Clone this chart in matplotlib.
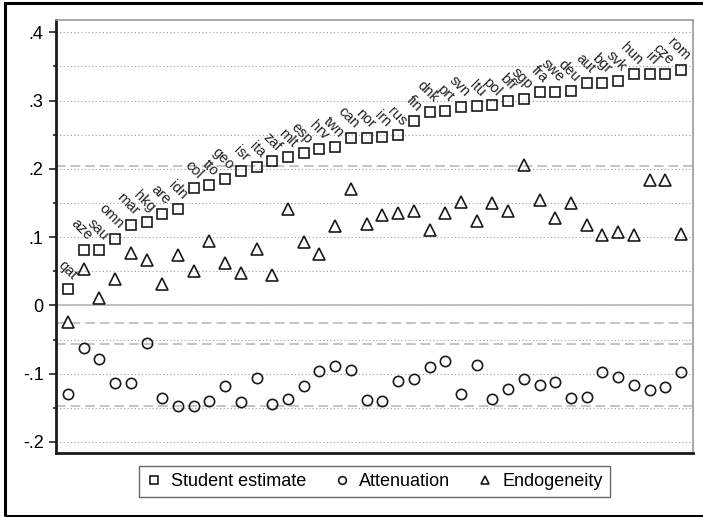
import matplotlib.pyplot as plt
from matplotlib.patches import Rectangle
import numpy as np

plt.rcParams['font.family'] = ['Liberation Sans', 'DejaVu Sans']

countries = ["qat", "aze", "sau", "omn", "mar", "hkg", "are", "idn", "col", "tto",
             "geo", "isr", "ita", "zaf", "mlt", "esp", "hrv", "twn", "can", "nor",
             "irn", "rus", "fin", "dnk", "prt", "svn", "ltu", "pol", "bfr", "sgp",
             "fra", "swe", "deu", "aut", "bgr", "svk", "hun", "irl", "cze", "rom"]

student = [0.024, 0.081, 0.081, 0.098, 0.118, 0.122, 0.134, 0.141, 0.172, 0.176,
           0.185, 0.197, 0.203, 0.211, 0.218, 0.223, 0.229, 0.232, 0.245, 0.245,
           0.247, 0.249, 0.270, 0.283, 0.285, 0.291, 0.292, 0.293, 0.300, 0.303,
           0.313, 0.313, 0.314, 0.326, 0.326, 0.329, 0.339, 0.339, 0.339, 0.345]

attenuation = [-0.130, -0.062, -0.079, -0.114, -0.114, -0.055, -0.135, -0.147, -0.147, -0.140,
               -0.118, -0.141, -0.107, -0.145, -0.137, -0.118, -0.096, -0.089, -0.094, -0.138,
               -0.140, -0.110, -0.108, -0.090, -0.081, -0.129, -0.087, -0.137, -0.122, -0.108,
               -0.116, -0.112, -0.136, -0.134, -0.097, -0.105, -0.116, -0.124, -0.120, -0.097]

endogeneity = [-0.024, 0.053, 0.011, 0.039, 0.077, 0.066, 0.032, 0.074, 0.050, 0.095,
               0.062, 0.048, 0.082, 0.045, 0.141, 0.093, 0.076, 0.116, 0.170, 0.119,
               0.133, 0.135, 0.138, 0.111, 0.136, 0.151, 0.124, 0.150, 0.138, 0.206,
               0.155, 0.128, 0.150, 0.118, 0.103, 0.108, 0.103, 0.183, 0.183, 0.104]

# reference levels drawn as dashed lines
ref_levels = [0.204, -0.026, -0.056, -0.147]

x = np.arange(len(countries))

fig = plt.figure(figsize=(7.03, 5.17), dpi=100)
W, H = 703, 517
ax = fig.add_axes([56 / W, 1 - 452.7 / H, (692.7 - 56) / W, (452.7 - 20.5) / H])

# outer frame (left, top, bottom edges)
fig.patches.append(Rectangle((5 / W, 1.5 / H), 1.2, 1 - 4.5 / H, transform=fig.transFigure,
                             fill=False, edgecolor='black', linewidth=2.2))

# dotted grid every .05
for yv in np.arange(-0.2, 0.401, 0.05):
    ax.axhline(yv, color='#9a9a9a', linestyle=(0, (1, 2.2)), linewidth=0.8, zorder=0)
ax.axhline(0, color='#bdbdbd', linewidth=1.3, zorder=1)
for yv in ref_levels:
    ax.axhline(yv, color='#c4c4c4', linestyle=(0, (5, 2.5)), linewidth=1.4, zorder=1)

mk = dict(linestyle='none', markerfacecolor='none', markeredgecolor='#1a1a1a',
          markeredgewidth=1.2, zorder=3)
ax.plot(x, student, marker='s', markersize=7.4, label='Student estimate', **mk)
ax.plot(x, attenuation, marker='o', markersize=7.4, label='Attenuation', **mk)
ax.plot(x, endogeneity, marker='^', markersize=8.0, label='Endogeneity', **mk)

for xi, yi, name in zip(x, student, countries):
    ax.annotate(name, (xi, yi), xytext=(1, 5), textcoords='offset points',
                rotation=-45, rotation_mode='anchor', ha='right', va='bottom',
                fontsize=10.5, color='#222222')

ax.set_xlim(-0.76, 39.74)
ax.set_ylim(-0.2157, 0.4173)
ax.set_xticks([])
ax.set_yticks([-0.2, -0.1, 0, 0.1, 0.2, 0.3, 0.4])
ax.set_yticklabels(['-.2', '-.1', '0', '.1', '.2', '.3', '.4'], fontsize=13)
ax.set_yticks(np.arange(-0.15, 0.4, 0.1), minor=True)
ax.tick_params(axis='y', which='major', length=5, width=1.2, color='#222222', pad=4)
ax.tick_params(axis='y', which='minor', length=2.5, width=1.2, color='#222222')

for side in ['left', 'bottom']:
    ax.spines[side].set_color('#1a1a1a')
    ax.spines[side].set_linewidth(2)
for side in ['top', 'right']:
    ax.spines[side].set_color('#9a9a9a')
    ax.spines[side].set_linewidth(1.2)

leg = fig.legend(loc='center', bbox_to_anchor=(374.5 / W, 1 - 481.5 / H), ncol=3,
                 fontsize=13, markerscale=0.75, handlelength=0.9, handletextpad=0.5,
                 columnspacing=1.5, fancybox=False, frameon=True, borderpad=0.4)
leg.get_frame().set_edgecolor('#444444')
leg.get_frame().set_linewidth(1.0)

fig.savefig('out.png', dpi=100)
